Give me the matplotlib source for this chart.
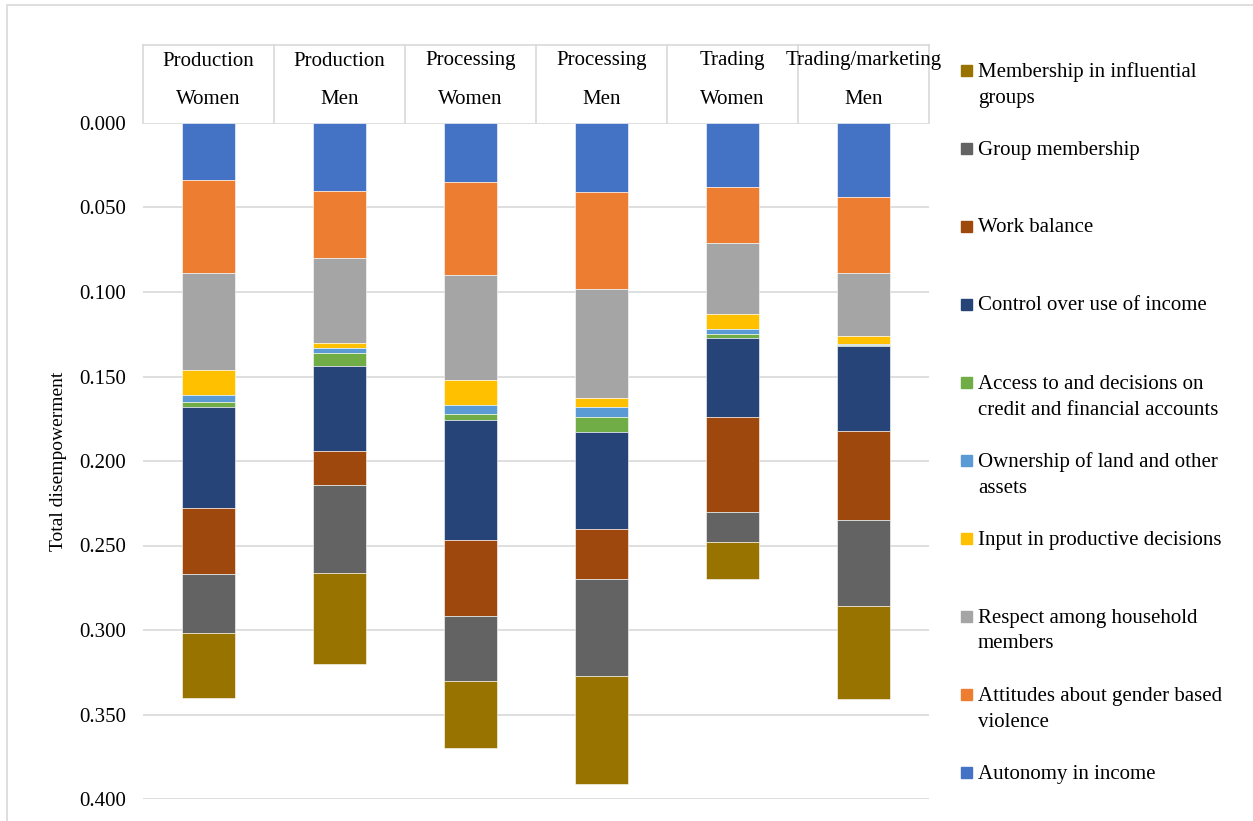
import matplotlib
matplotlib.use("Agg")
import matplotlib.pyplot as plt
import matplotlib.transforms as mtransforms
from matplotlib.patches import Rectangle
import numpy as np

plt.rcParams['font.family'] = ['Liberation Serif', 'DejaVu Serif']

# groups along the top axis (two-line headers)
group_top = ["Production", "Production", "Processing", "Processing", "Trading", "Trading/marketing"]
group_bottom = ["Women", "Men", "Women", "Men", "Women", "Men"]

# contribution of each indicator to total disempowerment, per group
autonomy_income = [0.034, 0.040, 0.035, 0.041, 0.038, 0.044]
attitudes_gbv = [0.055, 0.040, 0.055, 0.057, 0.033, 0.045]
respect_household = [0.057, 0.050, 0.062, 0.065, 0.042, 0.037]
input_productive = [0.015, 0.003, 0.015, 0.005, 0.009, 0.005]
ownership_land = [0.004, 0.003, 0.005, 0.006, 0.003, 0.0005]
access_credit = [0.003, 0.008, 0.004, 0.009, 0.002, 0.0005]
control_income = [0.060, 0.050, 0.071, 0.057, 0.047, 0.050]
work_balance = [0.039, 0.020, 0.045, 0.030, 0.056, 0.053]
group_membership = [0.035, 0.052, 0.038, 0.057, 0.018, 0.051]
influential_groups = [0.038, 0.054, 0.040, 0.064, 0.022, 0.055]

# stacking order, top of the (inverted) axis first
series = [
    ("Autonomy in income", autonomy_income, "#4472C4"),
    ("Attitudes about gender based\nviolence", attitudes_gbv, "#ED7D31"),
    ("Respect among household\nmembers", respect_household, "#A5A5A5"),
    ("Input in productive decisions", input_productive, "#FFC000"),
    ("Ownership of land and other\nassets", ownership_land, "#5B9BD5"),
    ("Access to and decisions on\ncredit and financial accounts", access_credit, "#70AD47"),
    ("Control over use of income", control_income, "#264478"),
    ("Work balance", work_balance, "#9E480E"),
    ("Group membership", group_membership, "#636363"),
    ("Membership in influential\ngroups", influential_groups, "#997300"),
]

W, H = 1253, 821
fig = plt.figure(figsize=(W / 100, H / 100), dpi=100)
ax = fig.add_axes([143 / W, 1 - 799 / H, (929 - 143) / W, (799 - 123) / H])

grid_c = "#D9D9D9"
x = np.arange(len(group_top))
bottom = np.zeros(len(x))
for name, vals, col in series:
    vals = np.array(vals)
    ax.bar(x, vals, 0.4, bottom=bottom, color=col, edgecolor="#ffffff", linewidth=0.4, zorder=3)
    bottom += vals

ax.set_xlim(-0.5, len(x) - 0.5)
ax.set_ylim(0.4, 0.0)
yt = np.arange(0, 0.401, 0.05)
ax.set_yticks(yt)
ax.set_yticklabels([f"{v:.3f}" for v in yt], fontsize=15)
ax.tick_params(axis="y", length=0, pad=12)
ax.set_xticks([])
for s in ax.spines.values():
    s.set_visible(False)
for v in yt:
    ax.axhline(v, color=grid_c, linewidth=1.2, zorder=1)
ax.set_ylabel("Total disempowerment", fontsize=14)
ax.yaxis.set_label_coords(-76 / 786, 0.5)

# header boxes with category labels above the plot
trans = mtransforms.blended_transform_factory(ax.transData, ax.transAxes)
ax_h = 799 - 123
top_y = 1 + 78 / ax_h
ax.plot([-0.5, len(x) - 0.5], [top_y, top_y], color=grid_c, linewidth=1.2,
        transform=trans, clip_on=False)
for b in np.arange(-0.5, len(x), 1.0):
    ax.plot([b, b], [1.0, top_y], color=grid_c, linewidth=1.2, transform=trans, clip_on=False)
for i in x:
    ax.text(i, 1 + 62 / ax_h, group_top[i], ha="center", va="center", fontsize=15,
            transform=trans, clip_on=False)
    ax.text(i, 1 + 24 / ax_h, group_bottom[i], ha="center", va="center", fontsize=15,
            transform=trans, clip_on=False)

# legend, listed in reverse stacking order
for k, (name, vals, col) in enumerate(series[::-1]):
    y0 = 72 + 78 * k
    fig.patches.append(Rectangle((961 / W, 1 - (y0 + 4) / H), 11 / W, 11 / H,
                                 transform=fig.transFigure, color=col))
    for j, line in enumerate(name.split("\n")):
        fig.text(978 / W, 1 - (y0 + 26 * j) / H, line, fontsize=15, va="center", ha="left")

# outer frame
fig.patches.append(Rectangle((7 / W, -0.05), 1.1, 1 - 5 / H + 0.05, transform=fig.transFigure,
                             fill=False, edgecolor=grid_c, linewidth=1.2))

fig.savefig("out.png", dpi=100)
